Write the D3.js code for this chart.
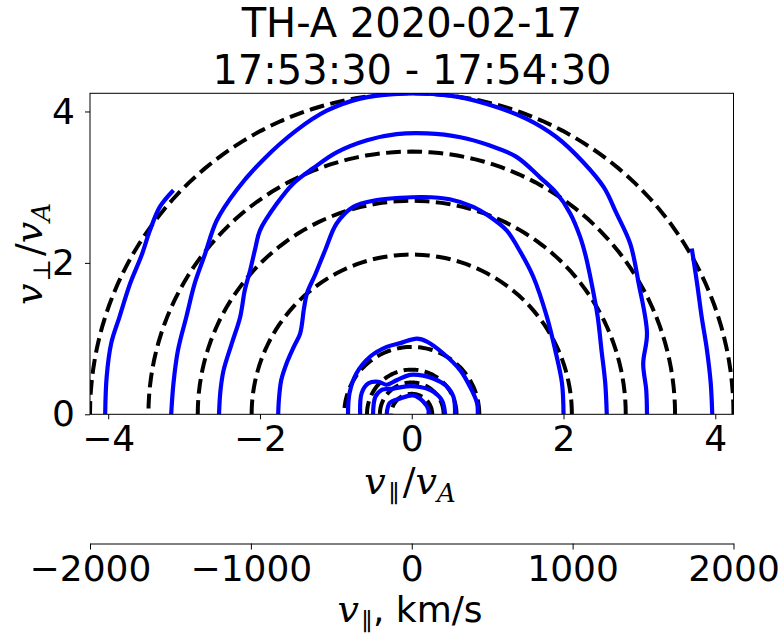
<!DOCTYPE html>
<html>
<head>
<meta charset="utf-8">
<script src="https://cdn.jsdelivr.net/npm/d3@7"></script>
<style>
  body { margin: 0; background: #fff; }
  text { font-family: "DejaVu Sans", sans-serif; fill: #000; }
  .math { font-family: "DejaVu Serif", serif; font-style: italic; }
</style>
</head>
<body>
<div id="chart"></div>
<script>
// dimensions
var width = 780;
var height = 638;

// title lines
var titleLines = ["TH-A 2020-02-17", "17:53:30 - 17:54:30"];

// axis limits, in v/vA
var vMax = 4.24;
var vA = 471.7; // km/s
var xTicks = [-4, -2, 0, 2, 4];
var yTicks = [0, 2, 4];
var kmTicks = [-2000, -1000, 0, 1000, 2000];

// model (dashed) contour radii
var dashRadii = [0.27, 0.42, 0.59, 0.89, 2.11, 2.82, 3.47, 4.24];

// measured (blue) contours, [v_par, v_perp]
var blueA = [[-1.76,0],[-1.75,0.2],[-1.72,0.45],[-1.65,0.67],[-1.55,0.9],[-1.47,1.07],[-1.42,1.40],[-1.38,1.60],[-1.27,1.85],[-1.14,2.17],[-0.99,2.52],[-0.77,2.74],[-0.46,2.83],[-0.15,2.86],[0.15,2.87],[0.50,2.84],[0.81,2.74],[1.03,2.61],[1.25,2.43],[1.40,2.20],[1.60,1.82],[1.78,1.29],[1.89,0.85],[1.98,0.41],[2.0,0]];
var blueB = [[-2.54,0],[-2.52,0.32],[-2.48,0.58],[-2.37,0.94],[-2.26,1.29],[-2.20,1.64],[-2.13,1.90],[-2.06,2.2],[-2.0,2.43],[-1.78,2.78],[-1.56,3.05],[-1.30,3.25],[-0.99,3.46],[-0.59,3.62],[-0.20,3.70],[0.20,3.71],[0.64,3.66],[1.03,3.55],[1.38,3.40],[1.69,3.13],[1.91,2.92],[2.09,2.65],[2.22,2.34],[2.29,2.10],[2.37,1.73],[2.45,1.29],[2.50,0.85],[2.55,0.41],[2.57,0]];
var blueC = [[-3.17,0],[-3.14,0.41],[-3.08,0.85],[-2.97,1.29],[-2.86,1.73],[-2.73,2.10],[-2.57,2.56],[-2.31,2.96],[-1.96,3.36],[-1.52,3.75],[-1.12,4.01],[-0.68,4.17],[-0.24,4.23],[0.50,4.21],[0.99,4.10],[1.52,3.90],[1.91,3.66],[2.26,3.33],[2.53,3.00],[2.70,2.65],[2.88,2.25],[2.99,1.73],[3.10,1.07],[3.05,0.67],[3.09,0.32],[3.10,0]];
var blueDleft = [[-4.04,0],[-4.02,0.50],[-3.96,0.94],[-3.85,1.29],[-3.71,1.73],[-3.56,2.10],[-3.45,2.43],[-3.32,2.74],[-3.14,2.96]];
var blueDright = [[3.69,2.19],[3.76,1.73],[3.82,1.29],[3.89,0.85],[3.94,0.41],[3.96,0]];
var blueE = [[-0.84,0],[-0.82,0.28],[-0.73,0.54],[-0.55,0.76],[-0.33,0.89],[-0.15,0.94],[0.07,1.0],[0.20,0.96],[0.42,0.80],[0.64,0.58],[0.77,0.36],[0.86,0.15],[0.87,0]];
var blueF = [[-0.68,0],[-0.66,0.28],[-0.57,0.41],[-0.44,0.43],[-0.33,0.39],[-0.20,0.45],[-0.02,0.52],[0.15,0.51],[0.29,0.47],[0.45,0.38],[0.55,0.23],[0.57,0]];
var blueG = [[-0.51,0],[-0.48,0.23],[-0.40,0.32],[-0.24,0.34],[-0.07,0.37],[0.11,0.36],[0.28,0.30],[0.40,0.18],[0.44,0]];
var blueH = [[-0.33,0],[-0.29,0.15],[-0.15,0.21],[0.02,0.25],[0.15,0.17],[0.22,0.06],[0.22,0]];
var blueContours = [blueA, blueB, blueC, blueDleft, blueDright, blueE, blueF, blueG, blueH];

// plot box
var boxLeft = 90, boxRight = 733.5, boxTop = 93.3, boxBottom = 414.3;

var x = d3.scaleLinear().domain([-vMax, vMax]).range([boxLeft, boxRight]);
var y = d3.scaleLinear().domain([0, vMax]).range([boxBottom, boxTop]);
var xKm = d3.scaleLinear().domain([-vMax * vA, vMax * vA]).range([boxLeft, boxRight]);

var svg = d3.select("#chart")
    .append("svg")
    .attr("width", width)
    .attr("height", height);

svg.append("defs").append("clipPath")
    .attr("id", "clip")
    .append("rect")
    .attr("x", boxLeft)
    .attr("y", boxTop)
    .attr("width", boxRight - boxLeft)
    .attr("height", boxBottom - boxTop);

// title
svg.selectAll(".title")
    .data(titleLines)
    .enter()
    .append("text")
    .attr("class", "title")
    .attr("x", 412)
    .attr("y", function (d, i) { return 37 + i * 47; })
    .attr("text-anchor", "middle")
    .attr("font-size", "40px")
    .text(function (d) { return d; });

var plot = svg.append("g").attr("clip-path", "url(#clip)");

var line = d3.line()
    .x(function (d) { return x(d[0]); })
    .y(function (d) { return y(d[1]); });

// dashed semicircles
var angles = d3.range(0, 181, 2);
plot.selectAll(".dash")
    .data(dashRadii)
    .enter()
    .append("path")
    .attr("class", "dash")
    .attr("d", function (r) {
        return line(angles.map(function (a) {
            var t = a * Math.PI / 180;
            return [r * Math.cos(t), r * Math.sin(t)];
        }));
    })
    .attr("fill", "none")
    .attr("stroke", "#000")
    .attr("stroke-width", 4)
    .attr("stroke-dasharray", "14.8,6.4");

// measured contours
plot.selectAll(".blue")
    .data(blueContours)
    .enter()
    .append("path")
    .attr("class", "blue")
    .attr("d", d3.line()
        .x(function (d) { return x(d[0]); })
        .y(function (d) { return y(d[1]); })
        .curve(d3.curveCatmullRom))
    .attr("fill", "none")
    .attr("stroke", "#0000ff")
    .attr("stroke-width", 4.2);

// frame
svg.append("rect")
    .attr("x", boxLeft)
    .attr("y", boxTop)
    .attr("width", boxRight - boxLeft)
    .attr("height", boxBottom - boxTop)
    .attr("fill", "none")
    .attr("stroke", "#000")
    .attr("stroke-width", 1);

// x axis
var xAxis = svg.append("g")
    .attr("transform", "translate(0," + boxBottom + ")")
    .call(d3.axisBottom(x).tickValues(xTicks).tickSize(5).tickPadding(6).tickFormat(d3.format("d")));
xAxis.select(".domain").remove();
xAxis.selectAll("text").attr("font-size", "36px").attr("font-family", "DejaVu Sans").attr("dy", "0.71em");

// y axis
var yAxis = svg.append("g")
    .attr("transform", "translate(" + boxLeft + ",0)")
    .call(d3.axisLeft(y).tickValues(yTicks).tickSize(5).tickPadding(10).tickFormat(d3.format("d")));
yAxis.select(".domain").remove();
yAxis.selectAll("text").attr("font-size", "36px").attr("font-family", "DejaVu Sans");

// secondary km/s axis
var kmAxis = svg.append("g")
    .attr("transform", "translate(0,543.5)")
    .call(d3.axisBottom(xKm).tickValues(kmTicks).tickSize(6).tickSizeOuter(0).tickPadding(6).tickFormat(d3.format("d")));
kmAxis.selectAll("text").attr("font-size", "36px").attr("font-family", "DejaVu Sans");
kmAxis.selectAll("line, path").attr("stroke-width", 1);

// axis labels
var xl = svg.append("text")
    .attr("x", 410)
    .attr("y", 494)
    .attr("text-anchor", "middle")
    .attr("font-size", "38px");
xl.append("tspan").attr("class", "math").text("v");
xl.append("tspan").attr("font-size", "24px").attr("dy", 8).attr("dx", 3).attr("font-family", "DejaVu Serif").text("\u2225");
xl.append("tspan").attr("dy", -8).attr("dx", 3).attr("font-family", "DejaVu Serif").text("/");
xl.append("tspan").attr("class", "math").text("v");
xl.append("tspan").attr("class", "math").attr("font-size", "26px").attr("dy", 8).text("A");

var yl = svg.append("text")
    .attr("transform", "translate(42,254) rotate(-90)")
    .attr("text-anchor", "middle")
    .attr("font-size", "38px");
yl.append("tspan").attr("class", "math").text("v");
yl.append("tspan").attr("font-size", "24px").attr("dy", 8).attr("dx", 2).attr("font-family", "DejaVu Serif").text("\u22A5");
yl.append("tspan").attr("dy", -8).attr("dx", 3).attr("font-family", "DejaVu Serif").text("/");
yl.append("tspan").attr("class", "math").text("v");
yl.append("tspan").attr("class", "math").attr("font-size", "26px").attr("dy", 8).text("A");

var kl = svg.append("text")
    .attr("x", 410)
    .attr("y", 622)
    .attr("text-anchor", "middle")
    .attr("font-size", "36px");
kl.append("tspan").attr("class", "math").attr("font-size", "38px").text("v");
kl.append("tspan").attr("font-size", "24px").attr("dy", 8).attr("dx", 3).attr("font-family", "DejaVu Serif").text("\u2225");
kl.append("tspan").attr("dy", -8).text(", km/s");
</script>
</body>
</html>
